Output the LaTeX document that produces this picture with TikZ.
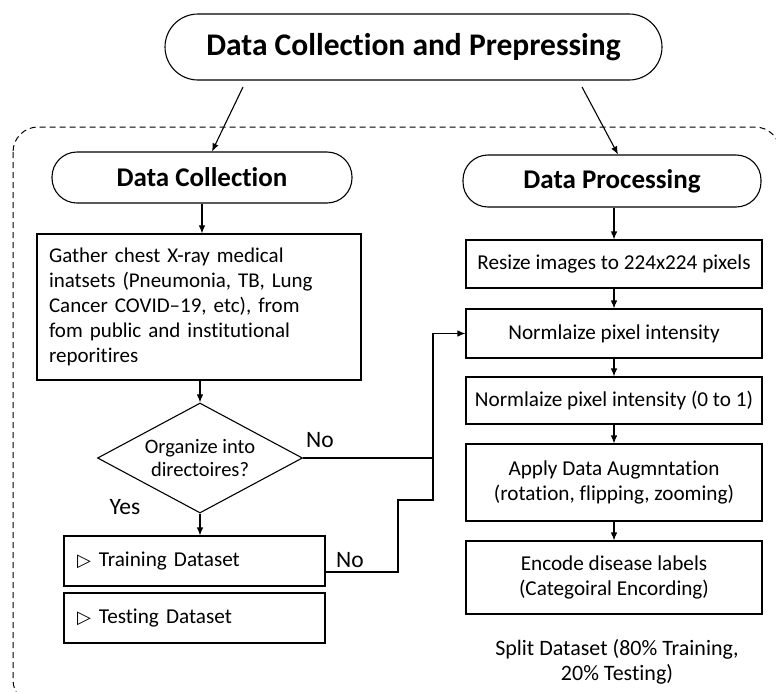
\documentclass[tikz,border=0pt]{standalone}
\usepackage{fontspec}
\setmainfont{Carlito}[Ligatures=NoCommon]
\newfontfamily\symfont{DejaVu Sans}
\usetikzlibrary{shapes.geometric,arrows.meta,calc}
\begin{document}
\begin{tikzpicture}[x=1pt,y=-1pt,line width=1.1pt,
  pill/.style={draw, rounded corners=25pt, inner sep=0pt, font=\fontsize{27}{31}\selectfont\bfseries},
  box/.style={draw, inner sep=0pt, font=\fontsize{21.2}{25}\selectfont, align=center},
  lbl/.style={inner sep=0pt, font=\fontsize{23.5}{27}\selectfont},
  arr/.style={-{Latex[length=8pt,width=6.5pt]}},
  ln/.style={-},
  tri/.style={}
]
\useasboundingbox (0,0) rectangle (776,691);
\fill[white] (0,0) rectangle (776,691);

% dashed container
\begin{scope}
\clip (0,0) rectangle (776,691);
\draw[line width=1pt, dash pattern=on 6pt off 4pt, rounded corners=25pt] (13,127) rectangle (780,705);
\end{scope}

% top
\node[pill, rounded corners=33pt, minimum width=497pt, minimum height=66pt,
      font=\fontsize{31.5}{35}\selectfont\bfseries] (title) at (413.5,47) {Data Collection and Prepressing};
\node[pill, minimum width=300pt, minimum height=51pt] (dc) at (202,177.5) {Data Collection};
\node[pill, minimum width=298pt, minimum height=52pt] (dp) at (612,181) {Data Processing};

\coordinate (a1) at (243,87);
\coordinate (a2) at (582,87);
\draw[arr] (a1) -- ([xshift=10pt]dc.north);
\draw[arr] (a2) -- ([xshift=6pt]dp.north);

% left column
\node[box, align=left, text width=300pt, minimum width=324pt, minimum height=146pt,
      font=\fontsize{21}{25}\selectfont] (gather) at (199,307)
  {Gather chest X-ray medical\\inatsets (Pneumonia, TB, Lung\\Cancer COVID–19, etc), from\\fom public and institutional\\reporitires};
\node[draw, shape=diamond, aspect=1.9, inner sep=0pt, minimum width=205pt, minimum height=110pt,
      align=center, font=\fontsize{20.5}{23}\selectfont] (dia) at (200,458) {Organize into\\directoires?};
\node[box, align=left, text width=235pt, minimum width=261pt, minimum height=50pt] (train) at (194.5,561)
  {{\symfont\bfseries\fontsize{18}{18}\selectfont ▷}\hspace{8pt}Training Dataset};
\node[box, align=left, text width=235pt, minimum width=261pt, minimum height=50pt] (test) at (194.5,618)
  {{\symfont\bfseries\fontsize{18}{18}\selectfont ▷}\hspace{8pt}Testing Dataset};

\draw[arr] (dc.south) -- (dc.south |- gather.north);
\draw[arr] (gather.south -| dia.north) -- (dia.north);
\draw[arr] (dia.south) -- (dia.south |- train.north);

% right column
\node[box, minimum width=296pt, minimum height=48pt] (resize) at (614,264) {Resize images to 224x224 pixels};
\node[box, minimum width=296pt, minimum height=49pt] (norm) at (614,333.5) {Normlaize pixel intensity};
\node[box, minimum width=296pt, minimum height=47pt] (norm01) at (614,400.5) {Normlaize pixel intensity (0 to 1)};
\node[box, minimum width=296pt, minimum height=77pt] (aug) at (614,482.5) {Apply Data Augmntation\\(rotation, flipping, zooming)};
\node[box, minimum width=296pt, minimum height=73pt] (enc) at (614,577.5) {Encode disease labels\\(Categoiral Encording)};
\node[inner sep=0pt, align=center, font=\fontsize{22}{25}\selectfont] (split) at (617,662) {Split Dataset (80\% Training,\\20\% Testing)};

\draw[arr] (dp.south -| resize.north) -- (resize.north);
\draw[arr] (resize) -- (norm);
\draw[arr] (norm) -- (norm01);
\draw[arr] (norm01) -- (aug);
\draw[arr] (aug) -- (enc);

% "No" routes
\coordinate (j1) at (433,458);
\coordinate (j2) at (433,500);
\coordinate (j3) at (398,500);
\draw[ln] (dia.east) -- (j1);
\draw[arr] ([yshift=-11pt]train.east) -| (j3) -- (j2) |- (norm.west);

\node[lbl] (no1) at (320,440) {No};
\node[lbl] (yes) at (125,507) {Yes};
\node[lbl] (no2) at (350,560) {No};
\end{tikzpicture}
\end{document}
